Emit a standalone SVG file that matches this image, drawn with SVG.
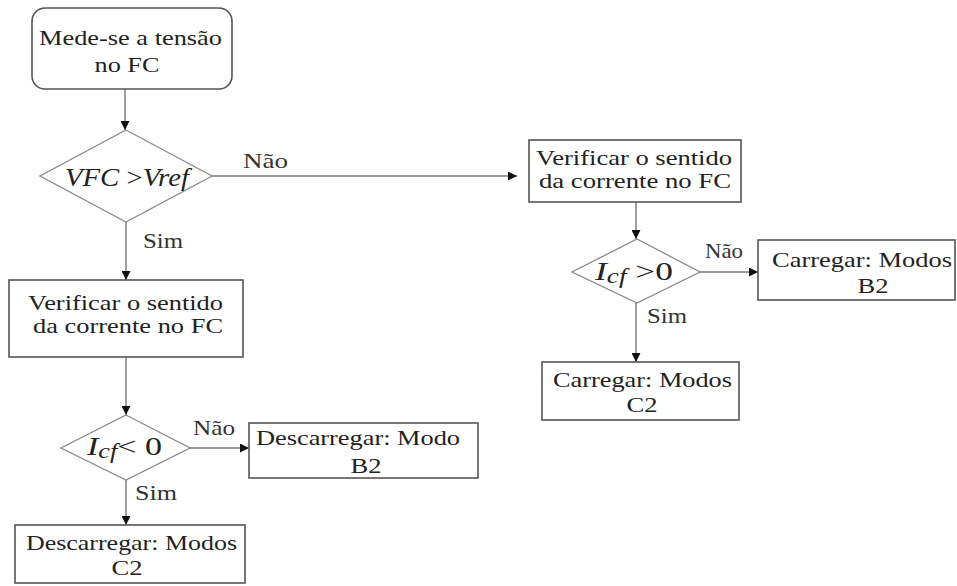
<svg xmlns="http://www.w3.org/2000/svg" width="957" height="586" viewBox="0 0 957 586">
  <style>
    .box { fill: #ffffff; stroke: #555555; stroke-width: 1.6; }
    .dia { fill: #ffffff; stroke: #8a8a8a; stroke-width: 1.3; }
    text { font-family: "Liberation Serif", "Times New Roman", Times, serif; font-weight: normal; }
    .t { font-size: 22px; fill: #222222; text-anchor: middle; }
    .lbl { font-size: 22px; fill: #333333; }
    .m { font-size: 26px; fill: #222222; font-style: italic; }
    .edge { fill: none; stroke: #777777; stroke-width: 1.4; }
  </style>
  <defs>
    <marker id="arr" viewBox="0 0 10 10" refX="10" refY="5" markerWidth="10" markerHeight="9" markerUnits="userSpaceOnUse" orient="auto">
      <path d="M0,0 L10,5 L0,10 z" fill="#111111"/>
    </marker>
  </defs>

  <rect width="957" height="586" fill="#ffffff"/>

  <!-- connectors -->
  <g id="connectors" font-family="Liberation Serif, serif">
    <line class="edge" x1="125" y1="89" x2="125" y2="130" marker-end="url(#arr)"/>
    <line class="edge" x1="212" y1="176" x2="517" y2="176" marker-end="url(#arr)"/>
    <line class="edge" x1="126" y1="222" x2="126" y2="280" marker-end="url(#arr)"/>
    <line class="edge" x1="126" y1="357" x2="126" y2="415" marker-end="url(#arr)"/>
    <line class="edge" x1="190" y1="448" x2="249" y2="448" marker-end="url(#arr)"/>
    <line class="edge" x1="126" y1="480" x2="126" y2="525" marker-end="url(#arr)"/>
    <line class="edge" x1="636" y1="202" x2="636" y2="239" marker-end="url(#arr)"/>
    <line class="edge" x1="700" y1="272" x2="758" y2="272" marker-end="url(#arr)"/>
    <line class="edge" x1="636" y1="303" x2="636" y2="362" marker-end="url(#arr)"/>

    <text class="lbl" x="243" y="168" textLength="45" lengthAdjust="spacingAndGlyphs">Não</text>
    <text class="lbl" x="143" y="248" textLength="40" lengthAdjust="spacingAndGlyphs">Sim</text>
    <text class="lbl" x="193" y="435" textLength="42" lengthAdjust="spacingAndGlyphs">Não</text>
    <text class="lbl" x="135" y="500" textLength="42" lengthAdjust="spacingAndGlyphs">Sim</text>
    <text class="lbl" x="705" y="258" textLength="38" lengthAdjust="spacingAndGlyphs">Não</text>
    <text class="lbl" x="647" y="323" textLength="40" lengthAdjust="spacingAndGlyphs">Sim</text>
  </g>

  <!-- start -->
  <g id="start">
    <rect class="box" x="32" y="8" width="200" height="81" rx="13"/>
    <text class="t" x="130.5" y="45" textLength="183" lengthAdjust="spacingAndGlyphs">Mede-se a tensão</text>
    <text class="t" x="127" y="72" textLength="65" lengthAdjust="spacingAndGlyphs">no FC</text>
  </g>

  <!-- decision: voltage -->
  <g id="dec-voltage">
    <polygon class="dia" points="126,130 212,176 126,222 40,176"/>
    <text class="m" x="65" y="186" textLength="124" lengthAdjust="spacingAndGlyphs">VFC <tspan font-style="normal">&gt;</tspan>Vref</text>
  </g>

  <!-- check current (left) -->
  <g id="check-left">
    <rect class="box" x="9" y="280" width="234" height="77"/>
    <text class="t" x="125.5" y="310" textLength="195" lengthAdjust="spacingAndGlyphs">Verificar o sentido</text>
    <text class="t" x="128" y="333" textLength="190" lengthAdjust="spacingAndGlyphs">da corrente no FC</text>
  </g>

  <!-- decision: current negative -->
  <g id="dec-neg">
    <polygon class="dia" points="126,415 190,448 126,480 61,448"/>
    <text class="m" x="87" y="455" textLength="75" lengthAdjust="spacingAndGlyphs">I<tspan font-size="20" dy="3">cf</tspan><tspan font-style="normal" dy="-3">&lt; 0</tspan></text>
  </g>

  <!-- discharge B2 -->
  <g id="discharge-b2">
    <rect class="box" x="249" y="423" width="229" height="55"/>
    <text class="t" x="358" y="445" textLength="204" lengthAdjust="spacingAndGlyphs">Descarregar: Modo</text>
    <text class="t" x="366" y="473" textLength="31" lengthAdjust="spacingAndGlyphs">B2</text>
  </g>

  <!-- discharge C2 -->
  <g id="discharge-c2">
    <rect class="box" x="15" y="525" width="230" height="58"/>
    <text class="t" x="131.5" y="550" textLength="211" lengthAdjust="spacingAndGlyphs">Descarregar: Modos</text>
    <text class="t" x="127" y="575" textLength="31" lengthAdjust="spacingAndGlyphs">C2</text>
  </g>

  <!-- check current (right) -->
  <g id="check-right">
    <rect class="box" x="529" y="140" width="212" height="62"/>
    <text class="t" x="634" y="165" textLength="196" lengthAdjust="spacingAndGlyphs">Verificar o sentido</text>
    <text class="t" x="635" y="188" textLength="192" lengthAdjust="spacingAndGlyphs">da corrente no FC</text>
  </g>

  <!-- decision: current positive -->
  <g id="dec-pos">
    <polygon class="dia" points="637,239 700,272 637,303 572,272"/>
    <text class="m" x="595" y="280" textLength="78" lengthAdjust="spacingAndGlyphs">I<tspan font-size="20" dy="3">cf</tspan><tspan font-style="normal" dy="-3"> &gt;0</tspan></text>
  </g>

  <!-- charge B2 -->
  <g id="charge-b2">
    <rect class="box" x="758" y="240" width="197" height="60"/>
    <text class="t" x="862" y="267" textLength="180" lengthAdjust="spacingAndGlyphs">Carregar: Modos</text>
    <text class="t" x="873" y="293" textLength="31" lengthAdjust="spacingAndGlyphs">B2</text>
  </g>

  <!-- charge C2 -->
  <g id="charge-c2">
    <rect class="box" x="542" y="362" width="197" height="58"/>
    <text class="t" x="642.5" y="387" textLength="179" lengthAdjust="spacingAndGlyphs">Carregar: Modos</text>
    <text class="t" x="642" y="412" textLength="31" lengthAdjust="spacingAndGlyphs">C2</text>
  </g>
</svg>
